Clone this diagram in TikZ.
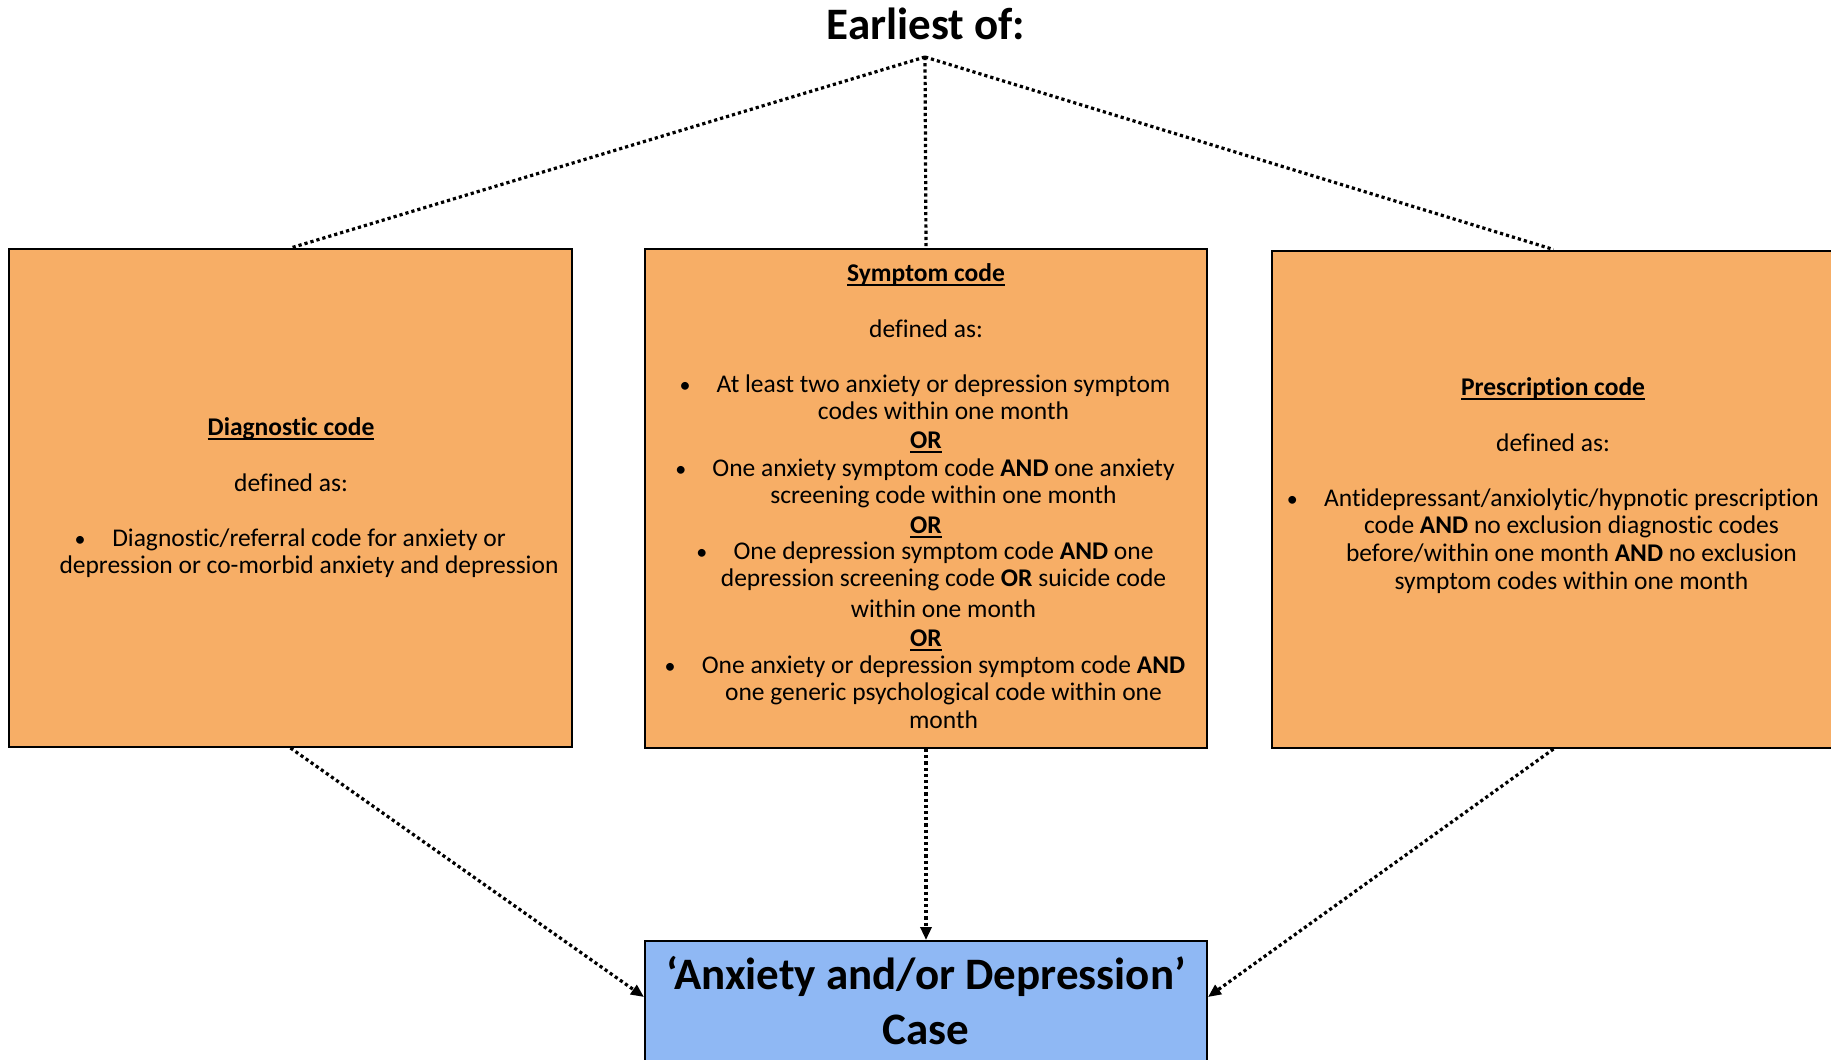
\documentclass[tikz,border=0pt]{standalone}
\usepackage{fontspec}
\setmainfont{Carlito}[Ligatures=NoCommon]
\usetikzlibrary{arrows.meta}

\definecolor{boxorange}{RGB}{247,174,102}
\definecolor{caseblue}{RGB}{143,184,244}

% bold heading with a heavy underline
\newsavebox{\hdsave}
\newcommand{\hdline}[1]{\sbox{\hdsave}{\bfseries #1}\rlap{\rule[-5bp]{\wd\hdsave}{1.7bp}}\usebox{\hdsave}}

\tikzset{
  codebox/.style={draw=black, line width=2bp, fill=boxorange, inner sep=0pt},
  casebox/.style={draw=black, line width=2bp, fill=caseblue, inner sep=0pt},
  bodytxt/.style={anchor=base, inner sep=0pt, font=\fontsize{25.5bp}{27bp}\selectfont},
  bigtxt/.style={anchor=base, inner sep=0pt, font=\fontsize{45bp}{53bp}\selectfont\bfseries},
  bulletmark/.style={bodytxt, font=\fontsize{22bp}{27bp}\selectfont},
  link/.style={line width=3.2bp, dash pattern=on 3.2bp off 3bp},
  arrowlink/.style={link, -{Triangle[length=13bp,width=11bp]}}
}

\begin{document}
\begin{tikzpicture}[x=1bp, y=-1bp]
\useasboundingbox (0,0) rectangle (1831,1059);
\clip (0,0) rectangle (1831,1059);

% title and the point the three criteria hang from
\node[bigtxt] (title) at (926,39) {Earliest of:};
\coordinate (apex) at (925,57);

% the three definition boxes
\node[codebox, minimum width=563bp, minimum height=498bp] (diag) at (290.5,498) {};
\node[codebox, minimum width=562bp, minimum height=499bp] (symp) at (926,498.5) {};
\node[codebox, minimum width=563bp, minimum height=497.5bp] (presc) at (1553.5,499.25) {};

% outcome box (runs past the lower edge)
\node[casebox, minimum width=562bp, minimum height=180bp] (case) at (926,1031) {};

% diagnostic code
\node[bodytxt] (dhead) at (291,435) {\hdline{Diagnostic code}};
\node[bodytxt] (ddef) at (291,491) {defined as:};
\node[bodytxt] (d1) at (309,546) {Diagnostic/referral code for anxiety or};
\node[bodytxt] (d2) at (309,573) {depression or co-morbid anxiety and depression};
\node[bulletmark] (db) at ([xshift=-32bp]d1.base west) {•};

% symptom code
\node[bodytxt] (shead) at (926,281) {\hdline{Symptom code}};
\node[bodytxt] (sdef) at (926,337) {defined as:};
\node[bodytxt] (s1a) at (943.5,392) {At least two anxiety or depression symptom};
\node[bodytxt] (s1b) at (943.5,419) {codes within one month};
\node[bulletmark] (s1m) at ([xshift=-31.5bp]s1a.base west) {•};
\node[bodytxt] (or1) at (926,448) {\hdline{OR}};
\node[bodytxt] (s2a) at (943.5,476) {One anxiety symptom code \textbf{AND} one anxiety};
\node[bodytxt] (s2b) at (943.5,503) {screening code within one month};
\node[bulletmark] (s2m) at ([xshift=-31.5bp]s2a.base west) {•};
\node[bodytxt] (or2) at (926,533) {\hdline{OR}};
\node[bodytxt] (s3a) at (943.5,559) {One depression symptom code \textbf{AND} one};
\node[bodytxt] (s3b) at (943.5,586) {depression screening code \textbf{OR} suicide code};
\node[bodytxt] (s3c) at (943.5,617) {within one month};
\node[bulletmark] (s3m) at ([xshift=-31.5bp]s3a.base west) {•};
\node[bodytxt] (or3) at (926,646) {\hdline{OR}};
\node[bodytxt] (s4a) at (943.5,673) {One anxiety or depression symptom code \textbf{AND}};
\node[bodytxt] (s4b) at (943.5,700) {one generic psychological code within one};
\node[bodytxt] (s4c) at (943.5,728) {month};
\node[bulletmark] (s4m) at ([xshift=-31.5bp]s4a.base west) {•};

% prescription code
\node[bodytxt] (phead) at (1553,395) {\hdline{Prescription code}};
\node[bodytxt] (pdef) at (1553,451) {defined as:};
\node[bodytxt] (p1) at (1571.5,506) {Antidepressant/anxiolytic/hypnotic prescription};
\node[bodytxt] (p2) at (1571.5,533) {code \textbf{AND} no exclusion diagnostic codes};
\node[bodytxt] (p3) at (1571.5,561) {before/within one month \textbf{AND} no exclusion};
\node[bodytxt] (p4) at (1571.5,589) {symptom codes within one month};
\node[bulletmark] (pm) at ([xshift=-31.5bp]p1.base west) {•};

% outcome label
\node[bigtxt] (case1) at (926,989) {‘Anxiety and/or Depression’};
\node[bigtxt] (case2) at (926,1044) {Case};

% connectors
\draw[link] (apex) -- (diag.north);
\draw[link] (apex) -- (symp.north);
\draw[link] (apex) -- (presc.north);
\draw[arrowlink] (diag.south) -- ([yshift=-57bp]case.north west);
\draw[arrowlink] (symp.south) -- (case.north);
\draw[arrowlink] (presc.south) -- ([yshift=-57bp]case.north east);
\end{tikzpicture}
\end{document}
